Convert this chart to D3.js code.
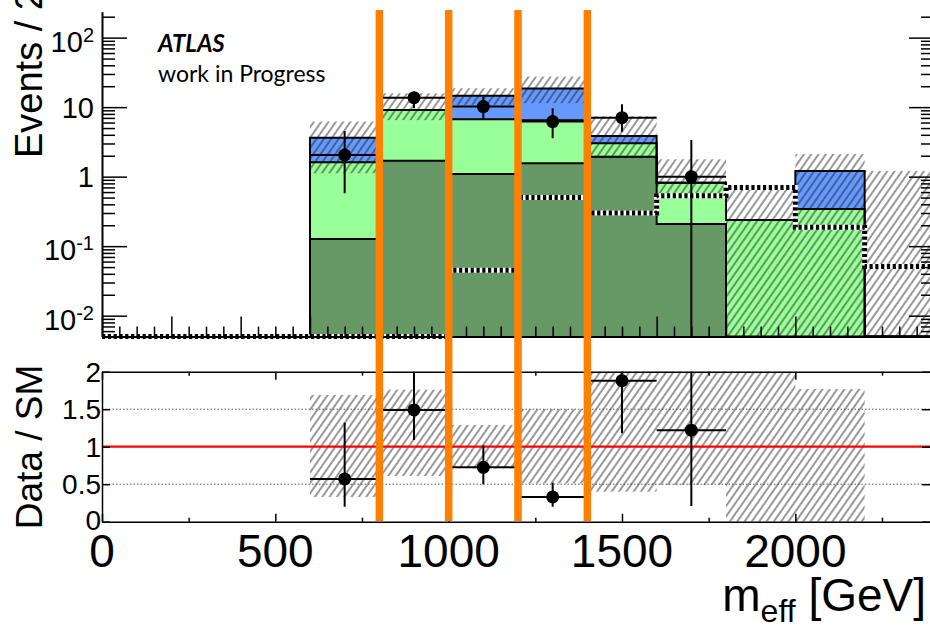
<!DOCTYPE html>
<html><head><meta charset="utf-8">
<script src="https://cdn.jsdelivr.net/npm/d3@7"></script>
<style>html,body{margin:0;padding:0;background:#fff;} svg{display:block;}</style>
</head><body><svg id="c" width="930" height="629"></svg>
<script>
// m_eff histogram, 200 GeV bins
const binLow = [600, 800, 1000, 1200, 1400, 1600, 1800, 2000, 2200];
const binWidth = 200;
// stacked backgrounds (per-process contributions, bottom to top)
const bkgDark  = [0.127, 1.70, 1.09, 1.56, 1.94, 0.209, 0, 0, 0];
const bkgLight = [1.483, 7.40, 5.61, 4.94, 1.08, 0.611, 0.238, 0.343, 0];
const bkgBlue  = [2.03, 0, 7.9, 12.0, 0.83, 0, 0, 0.867, 0];
// total background uncertainty band
const bandUp   = [6.2, 15.8, 18.7, 27.5, 7.4, 1.78, 0.72, 2.12, 1.21];
const bandDown = [1.12, 6.5, 10.8, 11.4, 1.84, 0.52, 0, 0, 0];
// observed data
const dataVal  = [2.05, 13.7, 10.2, 6.2, 7.06, 1.0];
const dataUp   = [4.54, 16.7, 14.1, 9.6, 11.0, 3.36];
const dataDown = [0.577, 9.6, 6.7, 3.56, 4.44, 0];
// signal overlay
const sigLow = [0, 200, 400, 600, 800, 1000, 1200, 1400, 1600, 1800, 2000, 2200];
const sigVal = [0, 0, 0, 0, 0, 0.045, 0.50, 0.30, 0.53, 0.70, 0.187, 0.051];
// ratio panel
const ratioVal  = [0.57, 1.49, 0.725, 0.33, 1.88, 1.22];
const ratioUp   = [1.32, 2.2, 1.02, 0.52, 2.6, 3.4];
const ratioDown = [0.2, 1.09, 0.5, 0.2, 1.18, 0.21];
const ratioBandUp   = [1.69, 1.76, 1.29, 1.5, 2.2, 2.2, 2.2, 1.77];
const ratioBandDown = [0.33, 0.61, 0.71, 0.51, 0.40, 0.49, 0, 0];
// selection boundaries
const cutLines = [800, 1000, 1200, 1400];
// axis labels
const xTickLabels = [0, 500, 1000, 1500, 2000];
const yMainLabels = [0.01, 0.1, 1, 10, 100];
const yRatioLabels = ["0", "0.5", "1", "1.5", "2"];

const colDark = "#669966", colLight = "#99ff99", colBlue = "#6699ff", colCut = "#ff8000";
const font = "'Liberation Sans', Arial, Helvetica, sans-serif";

const svg = d3.select("#c");
const x = d3.scaleLinear().domain([0, 2400]).range([102, 934]);
const yMin = 0.005;
const y = d3.scaleLog().domain([yMin, 236]).range([336.6, 11.7]);
const yr = d3.scaleLinear().domain([0, 2]).range([521.7, 371.7]);
const yBot = y(yMin);
const yc = v => y(Math.max(v, yMin));

const defs = svg.append("defs");
const pat = defs.append("pattern").attr("id", "hatch").attr("patternUnits", "userSpaceOnUse")
  .attr("width", 6).attr("height", 6).attr("patternTransform", "rotate(35)");
pat.append("line").attr("x1", 3).attr("y1", 0).attr("x2", 3).attr("y2", 6)
  .attr("stroke", "#1a1a1a").attr("stroke-width", 0.9);
defs.append("clipPath").attr("id", "clipMain").append("rect")
  .attr("x", x(0)).attr("y", y.range()[1]).attr("width", x(2400) - x(0)).attr("height", yBot - y.range()[1] + 3);
defs.append("clipPath").attr("id", "clipRatio").append("rect")
  .attr("x", x(0)).attr("y", yr(2)).attr("width", x(2400) - x(0)).attr("height", yr(0) - yr(2));

// stack the backgrounds
const rows = binLow.map((lo, i) => ({ lo, dark: bkgDark[i], light: bkgLight[i], blue: bkgBlue[i] }));
const stacked = d3.stack().keys(["dark", "light", "blue"])(rows);

function stepPath(lows, vals, w) {
  let p = `M${x(lows[0])},${yBot}`;
  lows.forEach((lo, i) => { p += `L${x(lo)},${yc(vals[i])}L${x(lo + w)},${yc(vals[i])}`; });
  p += `L${x(lows[lows.length - 1] + w)},${yBot}`;
  return p;
}

const main = svg.append("g").attr("clip-path", "url(#clipMain)");
const cols = { dark: colDark, light: colLight, blue: colBlue };
// fills, top layer first so lower layers cover it
[...stacked].reverse().forEach(s => {
  main.append("path").attr("d", stepPath(binLow, s.map(d => d[1]), binWidth) + "Z")
    .attr("fill", cols[s.key]).attr("stroke", "none");
});
// uncertainty hatch
binLow.forEach((lo, i) => {
  const top = yc(bandUp[i]), bot = yc(bandDown[i]);
  main.append("rect").attr("x", x(lo)).attr("y", top).attr("width", x(lo + binWidth) - x(lo))
    .attr("height", Math.max(0, bot - top)).attr("fill", "url(#hatch)");
});
// outlines
stacked.forEach(s => {
  main.append("path").attr("d", stepPath(binLow, s.map(d => d[1]), binWidth))
    .attr("fill", "none").attr("stroke", "#000").attr("stroke-width", 2);
});

// main axes
const gl = svg.append("g").attr("transform", `translate(${x(0)},0)`);
const yMinorTicks = [];
[0.001, 0.01, 0.1, 1, 10, 100].forEach(d => { for (let m = 2; m <= 9; m++) { const v = m * d; if (v >= yMin && v <= 236) yMinorTicks.push(v); } });
gl.call(d3.axisLeft(y).tickValues(yMainLabels).tickSize(-25).tickSizeOuter(0).tickFormat(""));
gl.append("g").call(d3.axisLeft(y).tickValues(yMinorTicks).tickSize(-13).tickSizeOuter(0).tickFormat(""))
  .select(".domain").remove();
const gr = svg.append("g").attr("transform", `translate(${x(2400)},0)`);
gr.call(d3.axisRight(y).tickValues(yMainLabels).tickSize(-25).tickSizeOuter(0).tickFormat(""));
gr.append("g").call(d3.axisRight(y).tickValues(yMinorTicks).tickSize(-13).tickSizeOuter(0).tickFormat(""))
  .select(".domain").remove();
const xMajorMain = d3.range(0, 2401, 200), xMinorMain = d3.range(0, 2401, 50).filter(v => v % 200);
const gb = svg.append("g").attr("transform", `translate(0,${yBot})`);
gb.call(d3.axisBottom(x).tickValues(xMajorMain).tickSize(-20).tickSizeOuter(0).tickFormat(""));
gb.append("g").call(d3.axisBottom(x).tickValues(xMinorMain).tickSize(-10).tickSizeOuter(0).tickFormat(""))
  .select(".domain").remove();
[gl, gr, gb].forEach(g => { g.selectAll(".domain").attr("stroke-width", 2); g.selectAll(".tick line").attr("stroke-width", 1.5); });

// signal: white under black dashes
const sigPath = stepPath(sigLow, sigVal, binWidth);
main.append("path").attr("d", sigPath).attr("fill", "none").attr("stroke", "#fff").attr("stroke-width", 5);
main.append("path").attr("d", sigPath).attr("fill", "none").attr("stroke", "#000").attr("stroke-width", 5)
  .attr("stroke-dasharray", "3.2,2.6");

// data points
dataVal.forEach((v, i) => {
  const cx = x(binLow[i] + binWidth / 2);
  main.append("line").attr("x1", x(binLow[i])).attr("x2", x(binLow[i] + binWidth)).attr("y1", y(v)).attr("y2", y(v))
    .attr("stroke", "#000").attr("stroke-width", 2);
  main.append("line").attr("x1", cx).attr("x2", cx).attr("y1", yc(dataUp[i])).attr("y2", yc(dataDown[i]))
    .attr("stroke", "#000").attr("stroke-width", 2);
  main.append("circle").attr("cx", cx).attr("cy", y(v)).attr("r", 6.5).attr("fill", "#000");
});

// main y labels
yMainLabels.forEach(v => {
  const e = Math.round(Math.log10(v));
  const t = svg.append("text").attr("x", 94).attr("text-anchor", "end")
    .attr("font-family", font).attr("font-size", 29).attr("fill", "#000");
  if (e === 0 || e === 1) {
    t.attr("y", y(v) + 10.5).text(e === 0 ? "1" : "10");
  } else {
    t.attr("y", y(v) + 14);
    t.append("tspan").text("10");
    t.append("tspan").attr("dy", -10).attr("font-size", 20).text(String(e));
  }
});
svg.append("text").attr("transform", `translate(42,158) rotate(-90)`).attr("text-anchor", "start")
  .attr("font-family", font).attr("font-size", 38).text("Events / 200 GeV");

svg.append("text").attr("x", 158).attr("y", 52).attr("font-family", "Lato, 'Open Sans', sans-serif")
  .attr("font-weight", "bold").attr("font-style", "italic").attr("font-size", 24).text("ATLAS");
svg.append("text").attr("x", 158).attr("y", 82).attr("font-family", "Lato, 'Open Sans', sans-serif")
  .attr("font-size", 23).text("work in Progress");

// ratio panel
const rp = svg.append("g").attr("clip-path", "url(#clipRatio)");
ratioBandUp.forEach((u, i) => {
  const top = yr(u), bot = yr(ratioBandDown[i]);
  rp.append("rect").attr("x", x(binLow[i])).attr("y", top).attr("width", x(binLow[i] + binWidth) - x(binLow[i]))
    .attr("height", bot - top).attr("fill", "url(#hatch)");
});
[0.5, 1.5].forEach(v => {
  rp.append("line").attr("x1", x(0)).attr("x2", x(2400)).attr("y1", yr(v)).attr("y2", yr(v))
    .attr("stroke", "#555").attr("stroke-width", 1).attr("stroke-dasharray", "1.5,2");
});
rp.append("line").attr("x1", x(0)).attr("x2", x(2400)).attr("y1", yr(1)).attr("y2", yr(1))
  .attr("stroke", "#ff0000").attr("stroke-width", 2.2);
ratioVal.forEach((v, i) => {
  const cx = x(binLow[i] + binWidth / 2);
  rp.append("line").attr("x1", x(binLow[i])).attr("x2", x(binLow[i] + binWidth)).attr("y1", yr(v)).attr("y2", yr(v))
    .attr("stroke", "#000").attr("stroke-width", 2);
  rp.append("line").attr("x1", cx).attr("x2", cx).attr("y1", yr(ratioUp[i])).attr("y2", yr(ratioDown[i]))
    .attr("stroke", "#000").attr("stroke-width", 2);
  rp.append("circle").attr("cx", cx).attr("cy", yr(v)).attr("r", 6.5).attr("fill", "#000");
});
// ratio frame and ticks
const xMajR = d3.range(0, 2401, 500), xMinR = d3.range(250, 2401, 500);
const rb = svg.append("g").attr("transform", `translate(0,${yr(0)})`);
rb.call(d3.axisBottom(x).tickValues(xMajR).tickSize(-8).tickSizeOuter(0).tickFormat(""));
rb.append("g").call(d3.axisBottom(x).tickValues(xMinR).tickSize(-4).tickSizeOuter(0).tickFormat("")).select(".domain").remove();
const rt = svg.append("g").attr("transform", `translate(0,${yr(2)})`);
rt.call(d3.axisTop(x).tickValues(xMajR).tickSize(-8).tickSizeOuter(0).tickFormat(""));
rt.append("g").call(d3.axisTop(x).tickValues(xMinR).tickSize(-4).tickSizeOuter(0).tickFormat("")).select(".domain").remove();
const rl = svg.append("g").attr("transform", `translate(${x(0)},0)`);
rl.call(d3.axisLeft(yr).tickValues([0, 0.5, 1, 1.5, 2]).tickSize(-8).tickSizeOuter(0).tickFormat(""));
const rr = svg.append("g").attr("transform", `translate(${x(2400)},0)`);
rr.call(d3.axisRight(yr).tickValues([0, 0.5, 1, 1.5, 2]).tickSize(-12).tickSizeOuter(0).tickFormat(""));
[rb, rt, rl, rr].forEach(g => { g.selectAll(".domain").attr("stroke-width", 1.5); g.selectAll(".tick line").attr("stroke-width", 1.5); });

yRatioLabels.forEach(s => {
  svg.append("text").attr("x", 101).attr("y", yr(+s) + (s === "0" ? 8 : 10)).attr("text-anchor", "end")
    .attr("font-family", font).attr("font-size", 28).text(s);
});
svg.append("text").attr("transform", `translate(42,447) rotate(-90)`).attr("text-anchor", "middle")
  .attr("font-family", font).attr("font-size", 37).text("Data / SM");

xTickLabels.forEach(v => {
  svg.append("text").attr("x", x(v)).attr("y", 567).attr("text-anchor", "middle")
    .attr("font-family", font).attr("font-size", 46).text(String(v));
});
const xl = svg.append("text").attr("x", 926).attr("y", 611).attr("text-anchor", "end")
  .attr("font-family", font).attr("font-size", 46);
xl.append("tspan").text("m");
xl.append("tspan").attr("dy", 11).attr("font-size", 32).text("eff");
xl.append("tspan").attr("dy", -11).text(" [GeV]");

// selection boundaries on top of both panels
cutLines.forEach(v => {
  svg.append("line").attr("x1", x(v)).attr("x2", x(v)).attr("y1", 10).attr("y2", 521)
    .attr("stroke", colCut).attr("stroke-width", 7.5);
});
</script></body></html>
